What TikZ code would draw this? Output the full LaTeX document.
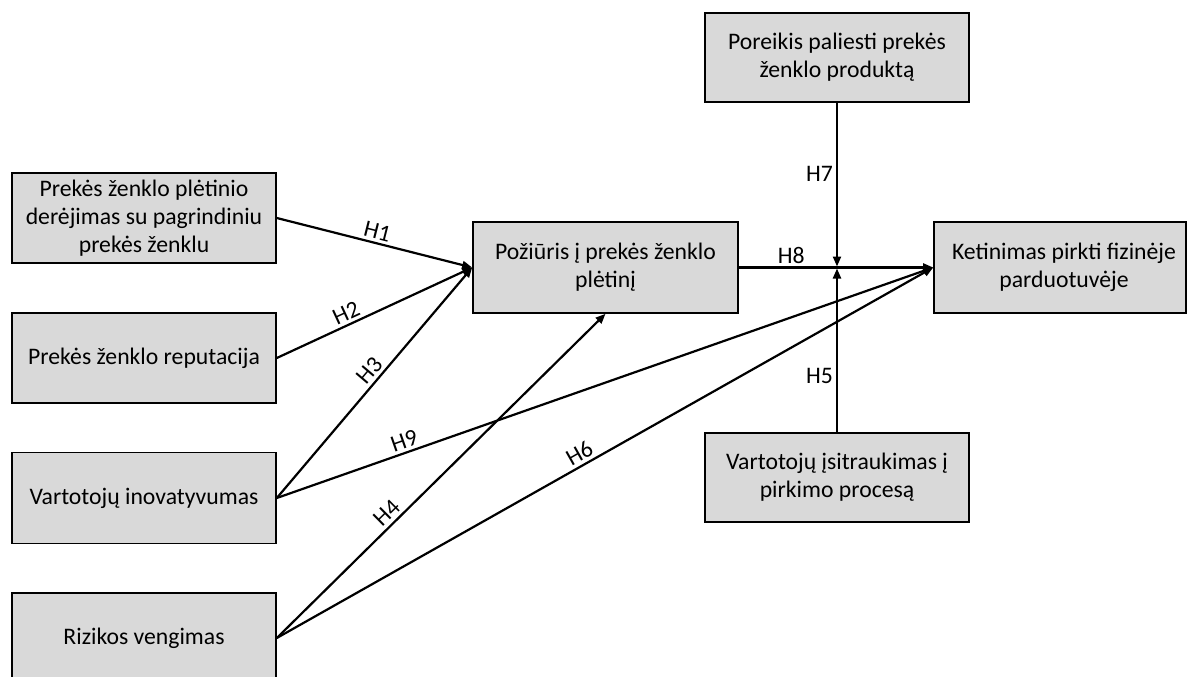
\documentclass[tikz,border=0pt]{standalone}
\usepackage{fontspec}
\setmainfont{Carlito}
\usetikzlibrary{arrows.meta}
\definecolor{boxgray}{RGB}{217,217,217}
\begin{document}
\begin{tikzpicture}[x=1pt,y=-1pt,
  box/.style={draw=black,line width=1.6pt,fill=boxgray,align=center,
    font=\fontsize{23.7}{28}\selectfont,inner sep=2pt},
  arr/.style={line width=2.2pt,-{Triangle[length=10pt,width=8pt]}},
  lab/.style={font=\fontsize{23.7}{28}\selectfont,inner sep=3pt}]
\path[use as bounding box] (0,0) rectangle (1187,677);
\clip (0,0) rectangle (1187,677);
\node[box,minimum width=264pt,minimum height=90pt] (b1) at (144,218) {Prekės ženklo plėtinio\\derėjimas su pagrindiniu\\prekės ženklu};
\node[box,minimum width=264pt,minimum height=90pt] (b2) at (144,358) {Prekės ženklo reputacija};
\node[box,minimum width=264pt,minimum height=91pt] (b3) at (144,498) {Vartotojų inovatyvumas};
\node[box,minimum width=264pt,minimum height=90pt] (b4) at (144,638) {Rizikos vengimas};
\node[box,minimum width=265pt,minimum height=91pt] (att) at (605.5,267.5) {Požiūris į prekės ženklo\\plėtinį};
\node[box,minimum width=264pt,minimum height=89pt] (need) at (837,57.5) {Poreikis paliesti prekės\\ženklo produktą};
\node[box,minimum width=264pt,minimum height=89pt] (inv) at (837,477.5) {Vartotojų įsitraukimas į\\pirkimo procesą};
\node[box,minimum width=252pt,minimum height=91pt] (int) at (1060,267.5) {\hspace*{8pt}Ketinimas pirkti fizinėje\\\hspace*{8pt}parduotuvėje};
\coordinate (j) at (837,267.5);
\draw[arr] (b1.east) -- node[lab,above,sloped,pos=0.5] {H1} (att.west);
\draw[arr] (b2.east) -- node[lab,above,sloped,pos=0.38] {H2} (att.west);
\draw[arr] (b3.east) -- node[lab,above,sloped,pos=0.52] {H3} (att.west);
\draw[arr] (b3.east) -- node[lab,above,sloped,pos=0.2] {H9} (int.west);
\draw[arr] (b4.east) -- node[lab,above,sloped,pos=0.36] {H4} (att.south);
\draw[arr] (b4.east) -- node[lab,above,sloped,pos=0.47] {H6} (int.west);
\draw[arr] (att.east) -- node[lab,above,pos=0.27] {H8} (int.west);
\draw[arr,shorten >=1pt] (need.south) -- node[lab,left,pos=0.43] {H7} (j);
\draw[arr,shorten >=1pt] (inv.north) -- node[lab,left,pos=0.34] {H5} (j);
\end{tikzpicture}
\end{document}
